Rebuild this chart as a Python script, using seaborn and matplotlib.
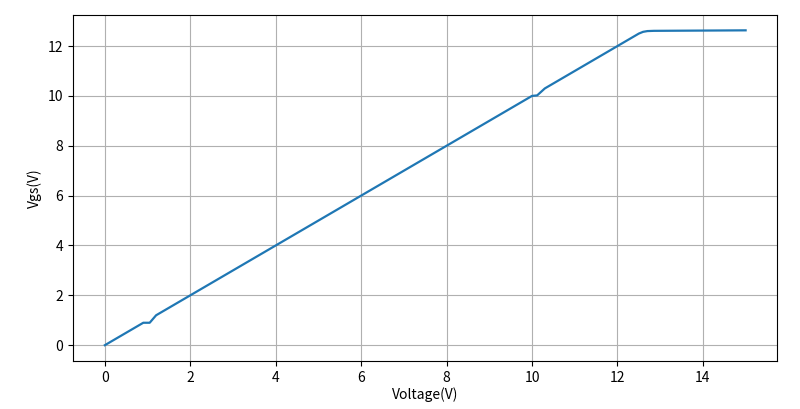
import matplotlib
matplotlib.use("Agg")
import matplotlib.pyplot as plt
import seaborn as sns
import pandas as pd

# values
voltage = [0.0, 0.9, 1.05, 1.2, 10.0, 10.12, 10.3, 12.5, 12.6, 12.7, 12.85, 15.0]
vgs = [0.0, 0.9, 0.9, 1.2, 10.0, 10.02, 10.3, 12.5, 12.57, 12.6, 12.61, 12.63]

df = pd.DataFrame({"Voltage(V)": voltage, "Vgs(V)": vgs})

plt.rcParams['font.family'] = ['Noto Sans CJK SC', 'DejaVu Sans']
plt.rcParams['axes.unicode_minus'] = False

fig = plt.figure(figsize=(8, 4.09), dpi=100)
ax = fig.add_axes([0.091, 0.117, 0.88, 0.846])

sns.lineplot(data=df, x="Voltage(V)", y="Vgs(V)", sort=False, color="#1f77b4", linewidth=1.6, ax=ax)
ax.grid(True, color="#b0b0b0", linewidth=0.8)
ax.set_xticks([0, 2, 4, 6, 8, 10, 12, 14])
ax.set_yticks([0, 2, 4, 6, 8, 10, 12])
ax.set_xlim(-0.75, 15.73)
ax.set_ylim(-0.64, 13.24)
ax.set_xlabel("Voltage(V)", labelpad=2)
ax.set_ylabel("Vgs(V)")

fig.savefig("out.png", dpi=100)
